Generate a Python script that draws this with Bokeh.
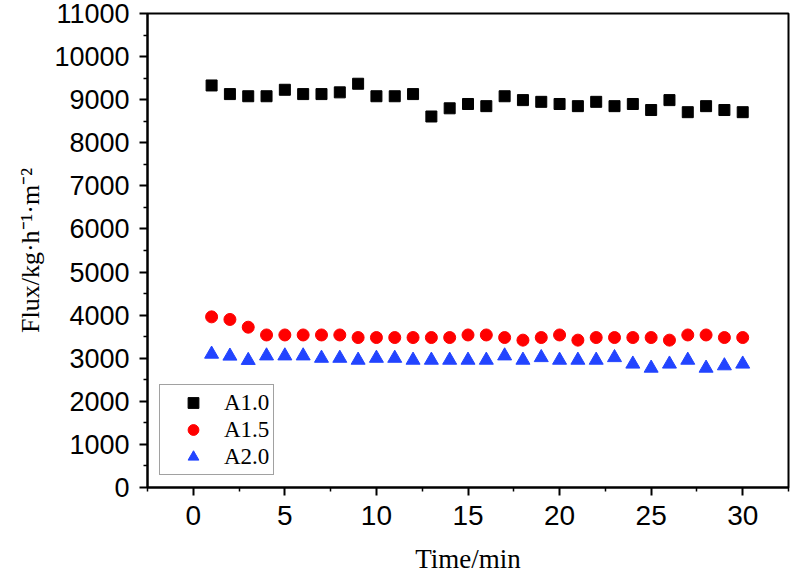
from bokeh.plotting import figure
from bokeh.models import Range1d, FixedTicker, Legend, LegendItem
from bokeh.embed import file_html
from bokeh.resources import INLINE

time_min = list(range(1, 31))
flux_a10 = [9330, 9130, 9080, 9080, 9230, 9130, 9130, 9170, 9370, 9080,
            9080, 9130, 8610, 8800, 8900, 8850, 9080, 8990, 8950, 8900,
            8850, 8950, 8850, 8900, 8760, 8990, 8710, 8850, 8760, 8710]
flux_a15 = [3960, 3900, 3720, 3540, 3540, 3540, 3540, 3540, 3480, 3480,
            3480, 3480, 3480, 3480, 3540, 3540, 3480, 3420, 3480, 3540,
            3420, 3480, 3480, 3480, 3480, 3420, 3540, 3540, 3480, 3480]
flux_a20 = [3095, 3050, 2950, 3055, 3055, 3055, 3000, 3000, 2955, 3000,
            3000, 2955, 2955, 2955, 2955, 2955, 3055, 2955, 3015, 2955,
            2955, 2955, 3015, 2865, 2770, 2865, 2955, 2770, 2825, 2865]
series_names = ["A1.0", "A1.5", "A2.0"]
x_ticks = [0, 5, 10, 15, 20, 25, 30]
y_ticks = list(range(0, 11001, 1000))

p = figure(width=790, height=576, x_range=Range1d(-2.5, 32.5), y_range=Range1d(0, 11000),
           output_backend="svg", toolbar_location=None,
           min_border_left=147, min_border_right=2, min_border_top=13, min_border_bottom=89)
p.background_fill_color = "white"
p.border_fill_color = "white"
p.xgrid.visible = False
p.ygrid.visible = False
p.outline_line_color = "black"
p.outline_line_width = 2
p.outline_line_alpha = 1

p.xaxis.ticker = FixedTicker(ticks=x_ticks, minor_ticks=[v + 2.5 for v in range(-5, 35, 5)])
p.yaxis.ticker = FixedTicker(ticks=y_ticks, minor_ticks=[v + 500 for v in range(-1000, 11000, 1000)])

for ax in (p.xaxis[0], p.yaxis[0]):
    ax.axis_line_width = 2
    ax.axis_line_color = "black"
    ax.major_tick_line_width = 2
    ax.major_tick_line_color = "black"
    ax.major_tick_out = 8
    ax.major_tick_in = 0
    ax.minor_tick_line_width = 1.5
    ax.minor_tick_line_color = "black"
    ax.minor_tick_out = 4
    ax.minor_tick_in = 0
    ax.major_label_text_font = "Liberation Sans"
    ax.major_label_text_color = "black"
    ax.major_label_standoff = 10
    ax.axis_label_text_font = "Liberation Serif"
    ax.axis_label_text_font_style = "normal"
    ax.axis_label_text_color = "black"

p.xaxis.major_label_text_font_size = "28px"
p.yaxis.major_label_text_font_size = "27px"
p.xaxis.axis_label = "Time/min"
p.xaxis.axis_label_text_font_size = "27px"
p.xaxis.axis_label_standoff = 16
p.yaxis.axis_label = "Flux/kg·h⁻¹·m⁻²"
p.yaxis.axis_label_text_font_size = "26px"
p.yaxis.axis_label_standoff = 6

r1 = p.scatter(time_min, flux_a10, marker="square", size=11, fill_color="black", line_color="black")
r2 = p.scatter(time_min, flux_a15, marker="circle", size=12, fill_color="#ff0000", line_color="#ff0000")
r3 = p.scatter(time_min, flux_a20, marker="triangle", size=14, fill_color="#2244ff", line_color="#2244ff")

legend = Legend(items=[LegendItem(label=series_names[0], renderers=[r1]),
                       LegendItem(label=series_names[1], renderers=[r2]),
                       LegendItem(label=series_names[2], renderers=[r3])],
                location="bottom_left", margin=12, padding=4, spacing=0,
                glyph_width=58, glyph_height=27, label_height=27, label_standoff=2,
                label_text_font="Liberation Serif", label_text_font_size="23px",
                label_text_color="black",
                border_line_color="#444444", border_line_width=1,
                background_fill_color="white", background_fill_alpha=1)
p.add_layout(legend)

open("out.html", "w").write(file_html(p, INLINE))
